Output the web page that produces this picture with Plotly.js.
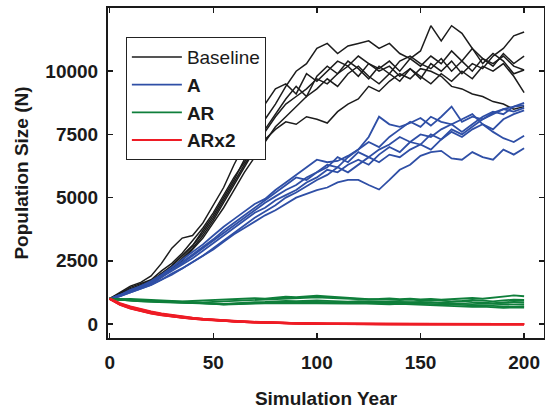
<!DOCTYPE html>
<html>
<head>
<meta charset="utf-8">
<script src="https://cdn.plot.ly/plotly-3.0.1.min.js"></script>
<style>html,body{margin:0;padding:0;background:#fff}#chart{width:545px;height:411px}</style>
</head>
<body>
<div id="chart"></div>
<script>
// Simulation years (every 5 years)
const years = [0,5,10,15,20,25,30,35,40,45,50,55,60,65,70,75,80,85,90,95,100,105,110,115,120,125,130,135,140,145,150,155,160,165,170,175,180,185,190,195,200];

// Baseline runs
const baseline1 = [1000,1250,1500,1650,1900,2400,3000,3400,3500,4000,4700,5400,6300,7100,7900,8700,9300,9500,9100,9900,9600,10000,10400,10200,10600,10300,10000,10200,9800,10100,9700,10300,10000,10400,9900,10300,10100,10600,10900,11400,11550];
const baseline2 = [1000,1200,1400,1550,1700,2000,2300,2700,3100,3700,4300,5000,5700,6500,7300,8100,8700,9400,10000,10300,10900,11100,10700,11000,11100,11200,10900,11100,10700,10500,10800,11800,11200,11800,11500,10900,10500,10300,10600,10200,10050];
const baseline3 = [1000,1150,1350,1500,1650,1900,2200,2600,3000,3500,4100,4800,5500,6200,6900,7600,8200,8700,9000,9300,9700,9500,9900,10200,9800,10300,10100,10400,10000,10500,10200,10600,10300,10800,10400,10000,10500,10200,10700,10300,10600];
const baseline4 = [1000,1200,1450,1600,1750,2100,2400,2800,3300,3800,4400,5100,5800,6400,7000,7700,8300,8900,9400,9000,9800,10200,9900,10400,10100,9700,10200,9900,10400,10600,10300,10100,10500,10000,10400,10900,10300,10700,10400,9900,10050];
const baseline5 = [1000,1150,1300,1450,1600,1850,2150,2500,2950,3400,4000,4600,5300,6000,6600,7200,7800,8200,8600,9000,9300,9700,9400,9900,10200,9800,9500,9900,9600,10100,9800,9500,9900,9600,10000,9700,10200,10000,10300,9800,9150];
const baseline6 = [1000,1200,1350,1550,1700,1950,2300,2700,3100,3600,4200,4900,5600,6300,6900,7300,7700,8000,7900,8200,8100,7950,8400,8700,8900,9400,9200,9600,9900,9700,10100,10000,9800,9400,9300,9100,9000,8800,8700,8500,8600];

// Scenario A runs
const a1 = [1000,1150,1350,1500,1700,1950,2250,2550,2850,3150,3500,3850,4150,4450,4750,4950,5300,5600,5900,6200,6500,6400,6450,6650,6900,7400,8200,7900,7800,7950,8150,7850,8200,8600,8000,8200,8100,8350,8500,8600,8750];
const a2 = [1000,1100,1250,1400,1550,1750,2000,2200,2450,2700,2950,3250,3550,3800,4050,4300,4500,4750,5000,5150,5300,5400,5600,5700,5700,5500,5320,5700,6100,6300,6650,6800,6850,6550,6500,6800,6600,6500,6900,6700,6950];
const a3 = [1000,1150,1300,1450,1650,1900,2150,2400,2700,3000,3300,3600,3900,4200,4500,4800,5050,5300,5500,5800,6000,6300,6200,6600,6900,7200,7000,7400,7700,8000,7800,8200,8000,7900,8100,8300,7900,7600,7350,7200,7450];
const a4 = [1000,1100,1300,1450,1600,1850,2100,2350,2600,2900,3200,3500,3800,4100,4400,4600,4900,5100,5300,5600,5800,6100,6000,6300,6500,6300,6700,7000,6800,7200,7500,7400,7700,7900,7600,7900,8200,8400,8300,8600,8650];
const a5 = [1000,1150,1300,1500,1650,1900,2150,2450,2750,3050,3350,3700,4000,4300,4600,4900,5200,5500,5800,5700,6000,6200,6600,6400,6800,6600,6900,7100,7400,7200,7100,7500,7300,7700,7500,7800,8100,8300,8500,8400,8550];
const a6 = [1000,1100,1250,1400,1550,1750,1950,2200,2450,2700,3000,3300,3600,3900,4200,4450,4700,5000,5200,5450,5700,5900,6200,6000,6300,6600,6400,6700,6600,6900,7100,6900,7300,7600,7400,7700,7900,7700,8100,8300,8450];

// Scenario AR runs
const ar1 = [1000,980,990,970,960,950,930,900,920,940,930,950,980,1000,1020,1000,1050,1080,1060,1100,1120,1090,1060,1040,1000,980,990,1010,980,1000,970,990,960,980,1010,1030,1000,1050,1080,1130,1100];
const ar2 = [1000,970,960,940,930,910,900,880,870,860,880,900,920,940,960,980,1000,1010,1030,1050,1060,1040,1020,1000,990,970,980,960,950,970,940,960,930,900,920,950,930,900,940,960,950];
const ar3 = [1000,960,950,930,920,900,880,870,860,840,830,800,820,850,870,880,900,920,910,930,940,920,900,890,910,900,880,890,870,880,860,870,850,880,900,870,850,830,860,880,870];
const ar4 = [1000,970,940,920,910,890,870,860,850,830,820,790,810,830,840,850,860,870,880,890,880,870,850,860,880,870,860,850,870,860,880,850,830,820,800,790,810,800,770,780,790];
const ar5 = [1000,950,930,910,890,870,860,850,840,830,810,780,800,820,830,840,830,850,860,870,860,850,840,830,850,840,820,810,800,820,810,790,780,760,750,760,730,720,700,690,710];
const ar6 = [1000,960,930,900,880,860,850,840,830,820,800,770,790,800,810,820,830,820,840,830,820,810,800,810,820,800,790,780,800,780,770,760,740,720,700,680,690,670,640,660,650];

// Scenario ARx2 runs
const arx1 = [1000,780,640,530,440,370,310,260,220,185,155,130,105,85,70,55,45,35,25,18,12,8,5,3,2,1,0,0,0,0,0,0,0,0,0,0,0,0,0,0,0];
const arx2 = [1000,800,670,560,470,390,330,280,235,195,165,135,110,90,72,58,46,36,27,20,14,9,6,4,2,1,0,0,0,0,0,0,0,0,0,0,0,0,0,0,0];
const arx3 = [1000,760,620,510,420,350,295,250,210,175,145,120,98,80,64,52,41,32,24,17,11,7,4,2,1,0,0,0,0,0,0,0,0,0,0,0,0,0,0,0,0];
const arx4 = [1000,820,690,580,490,410,345,290,245,205,170,140,115,95,76,60,48,38,29,21,15,10,6,4,2,1,1,0,0,0,0,0,0,0,0,0,0,0,0,0,0];
const arx5 = [1000,770,630,520,430,360,300,255,215,180,150,125,100,82,66,53,42,33,25,18,12,8,5,3,1,0,0,0,0,0,0,0,0,0,0,0,0,0,0,0,0];
const arx6 = [1000,790,655,545,455,380,320,270,228,190,160,132,108,88,70,56,44,34,26,19,13,8,5,3,2,1,0,0,0,0,0,0,0,0,0,0,0,0,0,0,0];

const groups = [
  {name: 'Baseline', color: '#1c1c1c', width: 1.5, runs: [baseline1, baseline2, baseline3, baseline4, baseline5, baseline6]},
  {name: '<b>A</b>', color: '#2f4fa6', width: 1.8, runs: [a1, a2, a3, a4, a5, a6]},
  {name: '<b>AR</b>', color: '#0f7f3b', width: 1.8, runs: [ar1, ar2, ar3, ar4, ar5, ar6]},
  {name: '<b>ARx2</b>', color: '#ee1c25', width: 2.2, runs: [arx1, arx2, arx3, arx4, arx5, arx6]}
];

const traces = [];
groups.forEach((g, gi) => {
  g.runs.forEach((run, ri) => {
    traces.push({
      x: years, y: run, type: 'scatter', mode: 'lines',
      name: g.name, legendgroup: 'g' + gi, showlegend: ri === 0,
      line: {color: g.color, width: g.width}
    });
  });
});

const fontFam = 'Liberation Sans, Arial, Helvetica, sans-serif';
const layout = {
  width: 545, height: 411,
  margin: {l: 108, r: 1, t: 8, b: 73},
  paper_bgcolor: '#fff', plot_bgcolor: '#fff',
  font: {family: fontFam, color: '#1a1a1a'},
  showlegend: true,
  legend: {
    x: 0.041, y: 0.912, xanchor: 'left', yanchor: 'top',
    bgcolor: '#fff', bordercolor: '#222', borderwidth: 1,
    font: {family: fontFam, size: 19, color: '#1a1a1a'},
    itemwidth: 50,
    tracegroupgap: 0
  },
  xaxis: {
    range: [-0.8, 209.6], tickvals: [0, 50, 100, 150, 200],
    ticks: 'inside', ticklen: 5, tickwidth: 1.5, tickcolor: '#1a1a1a',
    showline: true, linewidth: 2, linecolor: '#1a1a1a', mirror: 'ticks',
    showgrid: false, zeroline: false,
    tickfont: {family: fontFam, size: 19, weight: 'bold', color: '#1a1a1a'},
    ticklabelstandoff: 6,
    title: {text: 'Simulation Year', font: {family: fontFam, size: 19, weight: 'bold', color: '#1a1a1a'}, standoff: 20}
  },
  yaxis: {
    range: [-552, 12500], tickvals: [0, 2500, 5000, 7500, 10000], tickformat: 'd',
    ticks: 'inside', ticklen: 5, tickwidth: 1.5, tickcolor: '#1a1a1a',
    showline: true, linewidth: 2, linecolor: '#1a1a1a', mirror: 'ticks',
    showgrid: false, zeroline: false,
    tickfont: {family: fontFam, size: 19, weight: 'bold', color: '#1a1a1a'},
    ticklabelstandoff: 4,
    title: {text: 'Population Size (N)', font: {family: fontFam, size: 19, weight: 'bold', color: '#1a1a1a'}, standoff: 12}
  }
};

Plotly.newPlot('chart', traces, layout, {displayModeBar: false, staticPlot: true});
</script>
</body>
</html>
